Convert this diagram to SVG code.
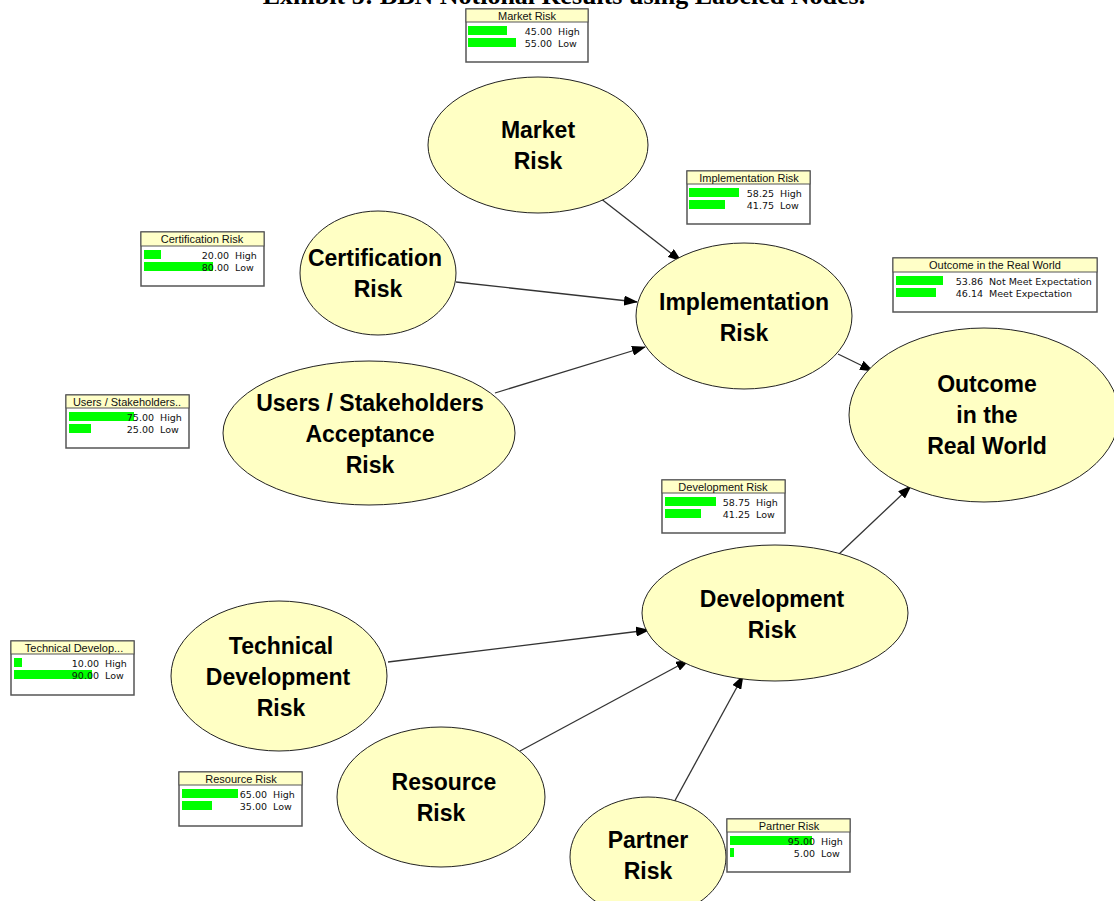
<svg xmlns="http://www.w3.org/2000/svg" width="1114" height="901" viewBox="0 0 1114 901">
<defs>
<marker id="ah" markerWidth="14" markerHeight="10" refX="13" refY="5" orient="auto" markerUnits="userSpaceOnUse">
<path d="M0,0 L14,5 L0,10 z" fill="#000"/>
</marker>
<style>
.node ellipse{fill:#ffffc4;stroke:#222;stroke-width:1}
.node text{font-family:"Liberation Sans",Arial,sans-serif;font-weight:bold;font-size:23px;fill:#000;text-anchor:middle}
.conn line{stroke:#333;stroke-width:1.3;marker-end:url(#ah)}
.box rect.b{fill:#fff;stroke:#555;stroke-width:1.5}
.box rect.h{fill:#ffffc8;stroke:#555;stroke-width:1}
.box rect.g{fill:#00ff00}
.box text{font-family:"DejaVu Sans","Liberation Sans",sans-serif;font-size:9.5px;fill:#111}
.box text.t{text-anchor:middle;font-family:"Liberation Sans",Arial,sans-serif;font-size:11px}
.box text.v{text-anchor:end}
.title{font-family:"Liberation Serif","Times New Roman",serif;font-weight:bold;font-size:26px;text-anchor:middle}
</style>
</defs>
<rect width="1114" height="901" fill="#fff"/>
<text class="title" x="564" y="4">Exhibit 5: BBN Notional Results using Labeled Nodes.</text>

<g id="connectors" class="conn">
<line x1="600" y1="198" x2="681" y2="261"/>
<line x1="456" y1="282" x2="637" y2="302"/>
<line x1="495" y1="393" x2="645" y2="347"/>
<line x1="838" y1="354" x2="873" y2="371"/>
<line x1="838" y1="555" x2="911" y2="486"/>
<line x1="388" y1="662" x2="649" y2="630"/>
<line x1="520" y1="751" x2="689" y2="660"/>
<line x1="672" y1="806" x2="743" y2="676"/>
</g>

<g id="market" class="node"><ellipse cx="538" cy="145" rx="110" ry="68"/><text x="538" y="138">Market</text><text x="538" y="169">Risk</text></g>
<g id="certification" class="node"><ellipse cx="378" cy="273" rx="78" ry="62"/><text x="375" y="266">Certification</text><text x="378" y="297">Risk</text></g>
<g id="implementation" class="node"><ellipse cx="744" cy="316" rx="108" ry="73"/><text x="744" y="310">Implementation</text><text x="744" y="341">Risk</text></g>
<g id="users" class="node"><ellipse cx="369" cy="433" rx="146" ry="72"/><text x="370" y="411">Users / Stakeholders</text><text x="370" y="442">Acceptance</text><text x="370" y="473">Risk</text></g>
<g id="outcome" class="node"><ellipse cx="984" cy="415" rx="135" ry="87"/><text x="987" y="392">Outcome</text><text x="987" y="423">in the</text><text x="987" y="454">Real World</text></g>
<g id="development" class="node"><ellipse cx="775" cy="613" rx="133" ry="68"/><text x="772" y="607">Development</text><text x="772" y="638">Risk</text></g>
<g id="technical" class="node"><ellipse cx="279" cy="676" rx="108" ry="75"/><text x="281" y="654">Technical</text><text x="278" y="685">Development</text><text x="281" y="716">Risk</text></g>
<g id="resource" class="node"><ellipse cx="441" cy="797" rx="104" ry="70"/><text x="444" y="790">Resource</text><text x="441" y="821">Risk</text></g>
<g id="partner" class="node"><ellipse cx="648" cy="857" rx="78" ry="60"/><text x="648" y="848">Partner</text><text x="648" y="879">Risk</text></g>

<g id="box-market" class="box" transform="translate(466,9)">
<rect class="b" x="0" y="0" width="122" height="53"/><rect class="h" x="0" y="0" width="122" height="13"/>
<text class="t" x="61" y="10.5">Market Risk</text>
<rect class="g" x="2" y="17" width="39" height="9"/><rect class="g" x="2" y="29" width="48" height="9"/>
<text class="v" x="86" y="26">45.00</text><text x="92" y="26">High</text>
<text class="v" x="86" y="38">55.00</text><text x="92" y="38">Low</text>
</g>
<g id="box-certification" class="box" transform="translate(141,232)">
<rect class="b" x="0" y="0" width="123" height="54"/><rect class="h" x="0" y="0" width="123" height="14"/>
<text class="t" x="61" y="11">Certification  Risk</text>
<rect class="g" x="3" y="18" width="17" height="9"/><rect class="g" x="3" y="30" width="69" height="9"/>
<text class="v" x="88" y="26.5">20.00</text><text x="94" y="26.5">High</text>
<text class="v" x="88" y="38.5">80.00</text><text x="94" y="38.5">Low</text>
</g>
<g id="box-users" class="box" transform="translate(66,395)">
<rect class="b" x="0" y="0" width="123" height="53"/><rect class="h" x="0" y="0" width="123" height="13"/>
<text class="t" x="61" y="10.5">Users / Stakeholders..</text>
<rect class="g" x="3" y="17" width="65" height="9"/><rect class="g" x="3" y="29" width="22" height="9"/>
<text class="v" x="88" y="26">75.00</text><text x="94" y="26">High</text>
<text class="v" x="88" y="38">25.00</text><text x="94" y="38">Low</text>
</g>
<g id="box-implementation" class="box" transform="translate(687,171)">
<rect class="b" x="0" y="0" width="123" height="53"/><rect class="h" x="0" y="0" width="123" height="13"/>
<text class="t" x="62" y="10.5">Implementation Risk</text>
<rect class="g" x="2" y="17" width="50" height="9"/><rect class="g" x="2" y="29" width="36" height="9"/>
<text class="v" x="87" y="26">58.25</text><text x="93" y="26">High</text>
<text class="v" x="87" y="38">41.75</text><text x="93" y="38">Low</text>
</g>
<g id="box-outcome" class="box" transform="translate(893,258)">
<rect class="b" x="0" y="0" width="204" height="54"/><rect class="h" x="0" y="0" width="204" height="14"/>
<text class="t" x="102" y="11">Outcome in the Real World</text>
<rect class="g" x="3" y="18" width="47" height="9"/><rect class="g" x="3" y="30" width="40" height="9"/>
<text class="v" x="90" y="26.5">53.86</text><text x="96" y="26.5">Not Meet Expectation</text>
<text class="v" x="90" y="38.5">46.14</text><text x="96" y="38.5">Meet Expectation</text>
</g>
<g id="box-development" class="box" transform="translate(662,480)">
<rect class="b" x="0" y="0" width="123" height="53"/><rect class="h" x="0" y="0" width="123" height="13"/>
<text class="t" x="61" y="10.5">Development  Risk</text>
<rect class="g" x="3" y="17" width="51" height="9"/><rect class="g" x="3" y="29" width="36" height="9"/>
<text class="v" x="88" y="26">58.75</text><text x="94" y="26">High</text>
<text class="v" x="88" y="38">41.25</text><text x="94" y="38">Low</text>
</g>
<g id="box-technical" class="box" transform="translate(11,641)">
<rect class="b" x="0" y="0" width="123" height="54"/><rect class="h" x="0" y="0" width="123" height="13"/>
<text class="t" x="63" y="10.5">Technical Develop...</text>
<rect class="g" x="3" y="17" width="8" height="9"/><rect class="g" x="3" y="29" width="78" height="9"/>
<text class="v" x="88" y="26">10.00</text><text x="94" y="26">High</text>
<text class="v" x="88" y="38">90.00</text><text x="94" y="38">Low</text>
</g>
<g id="box-resource" class="box" transform="translate(179,772)">
<rect class="b" x="0" y="0" width="123" height="54"/><rect class="h" x="0" y="0" width="123" height="13"/>
<text class="t" x="62" y="10.5">Resource Risk</text>
<rect class="g" x="3" y="17" width="56" height="9"/><rect class="g" x="3" y="29" width="30" height="9"/>
<text class="v" x="88" y="26">65.00</text><text x="94" y="26">High</text>
<text class="v" x="88" y="38">35.00</text><text x="94" y="38">Low</text>
</g>
<g id="box-partner" class="box" transform="translate(727,819)">
<rect class="b" x="0" y="0" width="123" height="53"/><rect class="h" x="0" y="0" width="123" height="13"/>
<text class="t" x="62" y="10.5">Partner Risk</text>
<rect class="g" x="3" y="17" width="82" height="9"/><rect class="g" x="3" y="29" width="4" height="9"/>
<text class="v" x="88" y="26">95.00</text><text x="94" y="26">High</text>
<text class="v" x="88" y="38">5.00</text><text x="94" y="38">Low</text>
</g>
</svg>
